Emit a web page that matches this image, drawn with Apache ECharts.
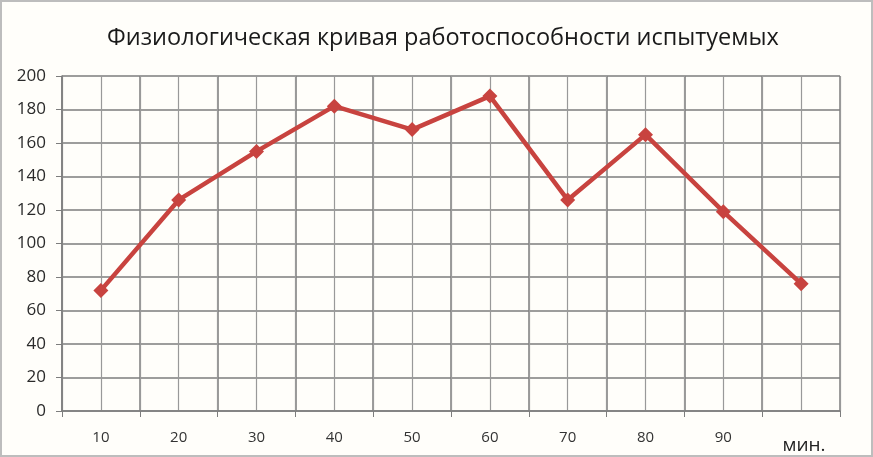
<!DOCTYPE html>
<html>
<head>
<meta charset="utf-8">
<script src="https://cdn.jsdelivr.net/npm/echarts@6/dist/echarts.min.js"></script>
<style>
    html, body { margin: 0; padding: 0; background: #fffefa; }
    #chart {
        width: 869px;
        height: 453px;
        border: 2px solid #bdbdbd;
        background: #fffefa;
    }
</style>
</head>
<body>
<div id="chart"></div>
<script>
// данные графика
const titleText = 'Физиологическая кривая работоспособности испытуемых'
const categories = ['10', '20', '30', '40', '50', '60', '70', '80', '90', 'мин.']
const values = [72, 126, 155, 182, 168, 188, 126, 165, 119, 76]
const yTicks = { min: 0, max: 200, interval: 20 }

const gridColor = '#7d7d7d'
const lineColor = '#c8433f'

const myChart = echarts.init(document.getElementById('chart'))

const option = {
    backgroundColor: '#fffefa',
    animation: false,
    title: {
        text: titleText,
        top: 19,
        left: 436,
        textAlign: 'center',
        textStyle: {
            fontFamily: 'Open Sans',
            fontWeight: 'normal',
            fontSize: 23.5,
            color: '#1a1a1a'
        }
    },
    grid: {
        left: 60,
        right: 31,
        top: 74,
        bottom: 44
    },
    xAxis: [
        {
            type: 'category',
            data: categories,
            boundaryGap: true,
            axisLine: { lineStyle: { color: gridColor, width: 1.5 } },
            axisTick: { show: true, interval: 0, length: 6, lineStyle: { color: gridColor } },
            axisLabel: {
                interval: 0,
                hideOverlap: false,
                margin: 19,
                fontFamily: 'Open Sans',
                fontSize: 15,
                color: '#333',
                formatter: (val) => val === 'мин.' ? '{u|' + val + '}' : val,
                rich: {
                    u: { fontFamily: 'Open Sans', fontSize: 19, color: '#222', padding: [6, 0, 0, 6] }
                }
            },
            splitLine: { show: true, interval: 0, lineStyle: { color: gridColor, width: 1.5 } }
        },
        {
            // вспомогательная ось только для промежуточных вертикальных линий сетки
            type: 'value',
            position: 'bottom',
            min: 0,
            max: 20,
            interval: 1,
            axisLine: { show: false },
            axisTick: { show: false },
            axisLabel: { show: false },
            splitLine: { show: true, lineStyle: { color: '#999', width: 1.2 } }
        }
    ],
    yAxis: {
        type: 'value',
        min: yTicks.min,
        max: yTicks.max,
        interval: yTicks.interval,
        axisLine: { show: true, lineStyle: { color: gridColor, width: 1.5 } },
        axisTick: { show: true, length: 6, lineStyle: { color: gridColor } },
        axisLabel: {
            margin: 16,
            fontFamily: 'Open Sans',
            fontSize: 17,
            color: '#2a2a2a'
        },
        splitLine: { show: true, lineStyle: { color: gridColor, width: 1.5 } }
    },
    series: [
        {
            type: 'line',
            xAxisIndex: 0,
            data: values,
            symbol: 'diamond',
            symbolSize: 15,
            z: 5,
            lineStyle: { color: lineColor, width: 4.5 },
            itemStyle: { color: lineColor }
        }
    ]
}
myChart.setOption(option)
</script>
</body>
</html>
